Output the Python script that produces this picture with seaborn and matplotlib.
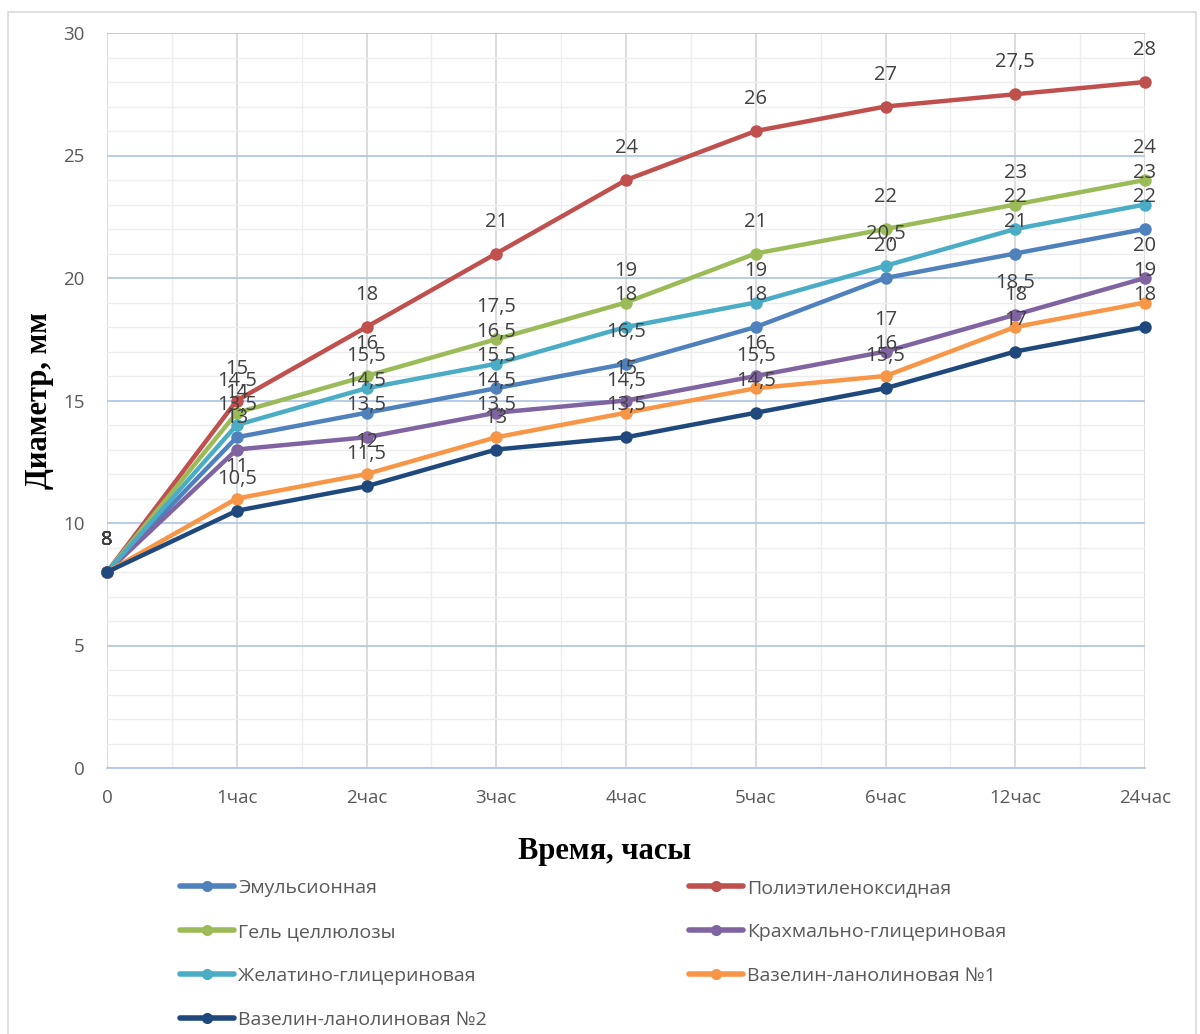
"""Диаметр зоны по времени для семи основ — линейный график с подписями."""

import matplotlib.pyplot as plt
import pandas as pd
import seaborn as sns
from matplotlib.lines import Line2D
from matplotlib.patches import Rectangle
from matplotlib.ticker import MultipleLocator

# ---------- data ----------
time_labels = ["0", "1час", "2час", "3час", "4час", "5час", "6час", "12час", "24час"]

emulsion = [8, 13.5, 14.5, 15.5, 16.5, 18, 20, 21, 22]
polyethylene_oxide = [8, 15, 18, 21, 24, 26, 27, 27.5, 28]
cellulose_gel = [8, 14.5, 16, 17.5, 19, 21, 22, 23, 24]
starch_glycerin = [8, 13, 13.5, 14.5, 15, 16, 17, 18.5, 20]
gelatin_glycerin = [8, 14, 15.5, 16.5, 18, 19, 20.5, 22, 23]
vaseline_lanolin_1 = [8, 11, 12, 13.5, 14.5, 15.5, 16, 18, 19]
vaseline_lanolin_2 = [8, 10.5, 11.5, 13, 13.5, 14.5, 15.5, 17, 18]

series_names = [
    "Эмульсионная",
    "Полиэтиленоксидная",
    "Гель целлюлозы",
    "Крахмально-глицериновая",
    "Желатино-глицериновая",
    "Вазелин-ланолиновая №1",
    "Вазелин-ланолиновая №2",
]
series_values = [
    emulsion,
    polyethylene_oxide,
    cellulose_gel,
    starch_glycerin,
    gelatin_glycerin,
    vaseline_lanolin_1,
    vaseline_lanolin_2,
]
colors = ["#4F81BD", "#C0504D", "#9BBB59", "#8064A2", "#4BACC6", "#F79646", "#1F497D"]

# long-form table for seaborn
rows = []
for name, vals in zip(series_names, series_values):
    for i, v in enumerate(vals):
        rows.append({"series": name, "t": i, "d": v})
df = pd.DataFrame(rows)

sns.set_style("white")
plt.rcParams["font.family"] = ["Open Sans", "DejaVu Sans"]

fig = plt.figure(figsize=(12, 10.34), dpi=100)
ax = fig.add_axes([107 / 1200, 1 - 768 / 1034, 1038 / 1200, 735 / 1034])

# grid first so it stays under the lines
ax.set_xlim(0, 8)
ax.set_ylim(0, 30)
ax.yaxis.set_major_locator(MultipleLocator(5))
ax.yaxis.set_minor_locator(MultipleLocator(1))
ax.xaxis.set_major_locator(MultipleLocator(1))
ax.xaxis.set_minor_locator(MultipleLocator(0.5))
ax.grid(which="minor", axis="both", color="#EDEDED", linewidth=1.0)
ax.grid(which="major", axis="x", color="#D9D9D9", linewidth=1.3)
ax.grid(which="major", axis="y", color="#B4C7E7", linewidth=1.3)
ax.set_axisbelow(True)

sns.lineplot(
    data=df,
    x="t",
    y="d",
    hue="series",
    hue_order=series_names,
    palette=colors,
    marker="o",
    markersize=9,
    markeredgewidth=0,
    linewidth=3.2,
    legend=False,
    ax=ax,
)
for ln in ax.lines:
    ln.set_clip_on(False)
    ln.set_solid_capstyle("round")

# data labels above every point
for name, vals in zip(series_names, series_values):
    for i, v in enumerate(vals):
        txt = f"{v:g}".replace(".", ",")
        ax.annotate(
            txt,
            (i, v),
            xytext=(0, 23),
            textcoords="offset points",
            ha="center",
            va="center",
            fontsize=14.5,
            color="#404040",
            annotation_clip=False,
        )

# axes styling
for side in ["top", "right", "left"]:
    ax.spines[side].set_visible(False)
ax.spines["bottom"].set_color("#B4C7E7")
ax.spines["bottom"].set_linewidth(1.3)
ax.set_xticks(range(len(time_labels)))
ax.set_xticklabels(time_labels)
ax.tick_params(axis="x", which="both", direction="out", length=5, width=1.2,
               color="#B4C7E7", pad=10, labelsize=13.5, labelcolor="#595959")
ax.tick_params(axis="y", which="both", length=0, pad=16, labelsize=13.5,
               labelcolor="#595959")

ax.set_xlabel("Время, часы", family=["Liberation Serif", "DejaVu Serif"],
              fontweight="bold", fontsize=22, color="black")
ax.xaxis.set_label_coords(0.479, -0.114)
ax.xaxis.label.set_va("center")
ax.set_ylabel("Диаметр, мм", family=["Liberation Serif", "DejaVu Serif"],
              fontweight="bold", fontsize=22, color="black")
ax.yaxis.set_label_coords(-0.065, 0.5)
ax.yaxis.label.set_va("center")

# legend: two columns, filled row by row like the original
handles = [
    Line2D([], [], color=c, lw=4, marker="o", markersize=8, markeredgewidth=0)
    for c in colors
]
left_idx = [0, 2, 4, 6]
right_idx = [1, 3, 5]
legend_kw = dict(
    frameon=False,
    loc="upper left",
    fontsize=14,
    labelcolor="#595959",
    handlelength=2.8,
    handletextpad=0.2,
    labelspacing=1.34,
    borderpad=0,
    borderaxespad=0,
)
fig.legend([handles[i] for i in left_idx], [series_names[i] for i in left_idx],
           bbox_to_anchor=(180 / 1200, 1 - 879 / 1034), **legend_kw)
fig.legend([handles[i] for i in right_idx], [series_names[i] for i in right_idx],
           bbox_to_anchor=(689 / 1200, 1 - 879 / 1034), **legend_kw)

# light chart-area border
fig.patches.append(
    Rectangle((8 / 1200, -0.02), 1188 / 1200, 1 - 12 / 1034 + 0.02,
              transform=fig.transFigure, fill=False, edgecolor="#D9D9D9",
              linewidth=1.2)
)

fig.savefig("out.png", dpi=100)
